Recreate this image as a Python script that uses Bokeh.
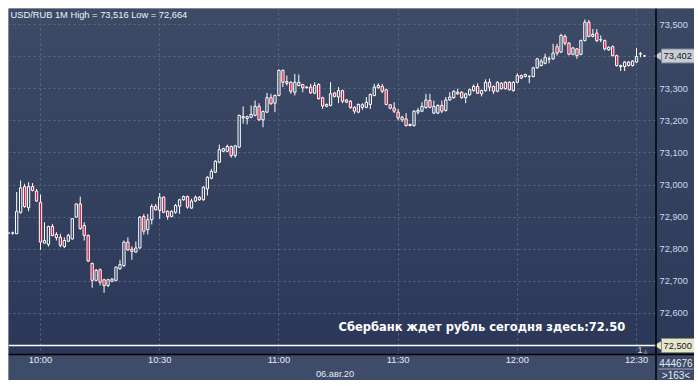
import numpy as np
import pandas as pd
from bokeh.plotting import figure
from bokeh.models import (ColumnDataSource, FixedTicker, CustomJSTickFormatter,
                          DatetimeTickFormatter, Span, Label, Range1d)
from bokeh.embed import file_html
from bokeh.resources import INLINE

# ---------------- data (USD/RUB, 1-minute candles, 06.08.2020) ----------------
start_time = "2020-08-06 09:52"
opens = [72.850, 72.850, 72.848, 72.915, 72.995, 72.929, 72.995, 72.981, 72.946, 72.819,
         72.815, 72.871, 72.846, 72.837, 72.808, 72.825, 72.832, 72.900, 72.941, 72.874,
         72.843, 72.756, 72.703, 72.736, 72.705, 72.687, 72.700, 72.703, 72.739, 72.749,
         72.822, 72.800, 72.791, 72.804, 72.902, 72.861, 72.892, 72.934, 72.921, 72.962,
         72.918, 72.902, 72.915, 72.934, 72.954, 72.964, 72.928, 72.950, 72.962, 72.954,
         72.988, 73.021, 73.040, 73.071, 73.105, 73.105, 73.120, 73.092, 73.118, 73.209,
         73.207, 73.211, 73.217, 73.245, 73.203, 73.227, 73.272, 73.255, 73.279, 73.357,
         73.317, 73.320, 73.289, 73.310, 73.313, 73.303, 73.305, 73.286, 73.313, 73.272,
         73.245, 73.248, 73.287, 73.274, 73.294, 73.258, 73.261, 73.242, 73.227, 73.242,
         73.242, 73.251, 73.279, 73.303, 73.307, 73.297, 73.250, 73.240, 73.227, 73.203,
         73.206, 73.185, 73.185, 73.227, 73.230, 73.241, 73.263, 73.224, 73.224, 73.248,
         73.232, 73.265, 73.272, 73.284, 73.289, 73.272, 73.281, 73.294, 73.307, 73.284,
         73.294, 73.305, 73.307, 73.292, 73.317, 73.300, 73.320, 73.294, 73.320, 73.341,
         73.338, 73.338, 73.338, 73.365, 73.372, 73.379, 73.392, 73.393, 73.431, 73.414,
         73.463, 73.442, 73.407, 73.424, 73.407, 73.450, 73.507, 73.463, 73.473, 73.452,
         73.450, 73.421, 73.431, 73.403, 73.369, 73.369, 73.383, 73.372, 73.383, 73.408,
         73.402]
highs = [72.853, 72.855, 72.978, 73.014, 73.004, 73.009, 73.006, 72.988, 72.970, 72.884,
         72.873, 72.879, 72.853, 72.848, 72.837, 72.848, 72.897, 72.943, 72.964, 72.884,
         72.846, 72.758, 72.739, 72.740, 72.708, 72.708, 72.710, 72.746, 72.767, 72.827,
         72.837, 72.809, 72.824, 72.903, 72.910, 72.910, 72.941, 72.941, 72.975, 72.965,
         72.921, 72.921, 72.941, 72.957, 72.967, 72.967, 72.957, 72.967, 72.965, 72.996,
         73.027, 73.050, 73.077, 73.126, 73.116, 73.126, 73.123, 73.125, 73.219, 73.245,
         73.216, 73.248, 73.263, 73.255, 73.232, 73.287, 73.284, 73.282, 73.360, 73.360,
         73.341, 73.323, 73.346, 73.344, 73.315, 73.308, 73.315, 73.320, 73.317, 73.275,
         73.254, 73.320, 73.290, 73.305, 73.297, 73.268, 73.264, 73.245, 73.254, 73.255,
         73.274, 73.285, 73.315, 73.317, 73.315, 73.300, 73.252, 73.258, 73.237, 73.216,
         73.224, 73.191, 73.233, 73.240, 73.258, 73.284, 73.284, 73.263, 73.251, 73.263,
         73.274, 73.289, 73.295, 73.300, 73.292, 73.287, 73.300, 73.313, 73.317, 73.297,
         73.329, 73.331, 73.310, 73.323, 73.320, 73.323, 73.323, 73.323, 73.348, 73.344,
         73.347, 73.341, 73.368, 73.396, 73.393, 73.409, 73.400, 73.440, 73.440, 73.471,
         73.469, 73.445, 73.430, 73.427, 73.453, 73.516, 73.514, 73.486, 73.486, 73.466,
         73.453, 73.432, 73.435, 73.406, 73.375, 73.386, 73.386, 73.389, 73.427, 73.414,
         73.405]
lows = [72.847, 72.845, 72.848, 72.910, 72.929, 72.918, 72.980, 72.948, 72.798, 72.818,
        72.808, 72.840, 72.827, 72.806, 72.804, 72.822, 72.830, 72.898, 72.860, 72.827,
        72.760, 72.680, 72.700, 72.687, 72.664, 72.682, 72.697, 72.700, 72.736, 72.744,
        72.795, 72.767, 72.789, 72.801, 72.846, 72.846, 72.877, 72.920, 72.895, 72.912,
        72.892, 72.899, 72.910, 72.910, 72.951, 72.926, 72.926, 72.947, 72.951, 72.951,
        72.967, 73.018, 73.037, 73.068, 73.102, 73.102, 73.085, 73.085, 73.115, 73.191,
        73.189, 73.208, 73.214, 73.200, 73.180, 73.224, 73.250, 73.227, 73.276, 73.305,
        73.310, 73.284, 73.279, 73.307, 73.289, 73.300, 73.284, 73.283, 73.266, 73.237,
        73.242, 73.245, 73.273, 73.255, 73.255, 73.255, 73.238, 73.222, 73.224, 73.234,
        73.239, 73.237, 73.276, 73.300, 73.286, 73.248, 73.236, 73.224, 73.201, 73.196,
        73.182, 73.183, 73.182, 73.220, 73.227, 73.238, 73.239, 73.221, 73.221, 73.224,
        73.229, 73.262, 73.269, 73.281, 73.269, 73.255, 73.278, 73.291, 73.284, 73.276,
        73.291, 73.292, 73.284, 73.289, 73.297, 73.297, 73.294, 73.291, 73.317, 73.330,
        73.335, 73.317, 73.335, 73.362, 73.369, 73.376, 73.379, 73.390, 73.403, 73.411,
        73.435, 73.404, 73.404, 73.393, 73.404, 73.447, 73.460, 73.460, 73.445, 73.445,
        73.419, 73.418, 73.400, 73.369, 73.355, 73.355, 73.369, 73.369, 73.380, 73.398,
        73.400]
closes = [72.850, 72.851, 72.918, 72.991, 72.933, 72.995, 72.983, 72.950, 72.822, 72.827,
          72.871, 72.843, 72.836, 72.812, 72.827, 72.843, 72.895, 72.941, 72.864, 72.843,
          72.763, 72.703, 72.734, 72.697, 72.687, 72.705, 72.707, 72.744, 72.752, 72.822,
          72.798, 72.793, 72.804, 72.900, 72.856, 72.892, 72.933, 72.923, 72.962, 72.915,
          72.902, 72.918, 72.936, 72.954, 72.964, 72.931, 72.950, 72.962, 72.954, 72.993,
          73.024, 73.042, 73.074, 73.110, 73.113, 73.120, 73.092, 73.122, 73.217, 73.213,
          73.213, 73.220, 73.245, 73.203, 73.229, 73.272, 73.253, 73.279, 73.357, 73.320,
          73.322, 73.292, 73.320, 73.320, 73.303, 73.305, 73.287, 73.310, 73.269, 73.246,
          73.251, 73.284, 73.276, 73.294, 73.261, 73.265, 73.241, 73.230, 73.251, 73.250,
          73.258, 73.282, 73.305, 73.310, 73.292, 73.251, 73.239, 73.230, 73.209, 73.211,
          73.185, 73.189, 73.230, 73.232, 73.245, 73.265, 73.242, 73.245, 73.248, 73.230,
          73.265, 73.274, 73.292, 73.289, 73.272, 73.284, 73.297, 73.307, 73.286, 73.294,
          73.320, 73.320, 73.292, 73.320, 73.300, 73.320, 73.297, 73.320, 73.341, 73.333,
          73.344, 73.339, 73.365, 73.393, 73.386, 73.398, 73.393, 73.411, 73.411, 73.466,
          73.442, 73.407, 73.427, 73.403, 73.450, 73.507, 73.463, 73.469, 73.450, 73.453,
          73.424, 73.429, 73.403, 73.372, 73.372, 73.383, 73.372, 73.386, 73.400, 73.409,
          73.402]

x_tick_times = ["10:00", "10:30", "11:00", "11:30", "12:00", "12:30"]
y_tick_values = [72.5, 72.6, 72.7, 72.8, 72.9, 73.0, 73.1, 73.2, 73.3, 73.4, 73.5]
title_text = "USD/RUB 1M High = 73,516 Low = 72,664"
note_text = "Сбербанк ждет рубль сегодня здесь:72.50"
date_label = "06.авг.20"
last_price = 73.402
target_price = 72.50
last_price_text = "73,402"
target_price_text = "72,500"
volume_text = "444676"
count_text = ">163<"

# ---------------- derived ----------------
n = len(opens)
times = pd.date_range(start_time, periods=n, freq="min")
t_ms = times.values.astype("datetime64[ms]").astype("int64")
day = start_time.split(" ")[0]
t10 = int(pd.Timestamp(day + " 10:00").value // 10**6)
x_ticks = [int(pd.Timestamp(day + " " + s).value // 10**6) for s in x_tick_times]

MIN = 60000.0
PX_PER_MIN = 3.9736
PX_PER_UNIT = 321.0


def sx(px):  # layout helper: screen x -> time (ms)
    return t10 + (px - 40.0) / PX_PER_MIN * MIN


def sy(py):  # layout helper: screen y -> price
    return 73.5 - (py - 24.0) / PX_PER_UNIT


o = np.array(opens); h = np.array(highs); l = np.array(lows); c = np.array(closes)
top = np.maximum(o, c)
bot = np.minimum(o, c)
up = c >= o
fill = ["rgba(0,0,0,0)" if u else "#dc143c" for u in up]
src = ColumnDataSource(dict(t=t_ms, high=h, low=l, top=top, bottom=bot, fill=fill))

# frame covers the whole dark panel: chart area + price column + time strip
X0, X1 = sx(8), sx(694)
Y0, Y1 = sy(380), sy(8)
XP = sx(655.5)   # chart / price-column separator
YP = sy(354)     # chart / time-strip separator

p = figure(x_axis_type="datetime", y_axis_location="right",
           frame_width=686, frame_height=372,
           min_border_left=0, min_border_top=0, min_border_right=0, min_border_bottom=0,
           x_range=Range1d(X0, X1), y_range=Range1d(Y0, Y1),
           toolbar_location=None, output_backend="svg",
           background_fill_color="#35425f", border_fill_color="#bdc9d9",
           outline_line_color=None)
p.margin = (8, 4, 9, 8)


def gradient(c_top, c_bot, ng=64):
    img = np.empty((ng, 1), dtype=np.uint32)
    view = img.view(dtype=np.uint8).reshape((ng, 1, 4))
    c_top = np.array(c_top, float); c_bot = np.array(c_bot, float)
    for i in range(ng):
        f = i / (ng - 1)
        col = c_bot + (c_top - c_bot) * f
        view[i, 0, 0] = int(col[0]); view[i, 0, 1] = int(col[1])
        view[i, 0, 2] = int(col[2]); view[i, 0, 3] = 255
    return img


# chart background gradient (below grid)
p.image_rgba(image=[gradient((62, 75, 102), (43, 56, 89))], x=X0, y=YP, dw=XP - X0, dh=Y1 - YP,
             level="image")

# grids
grid_col = "#5b6988"
p.xgrid.ticker = FixedTicker(ticks=x_ticks)
p.ygrid.ticker = FixedTicker(ticks=y_tick_values)
for g in (p.xgrid, p.ygrid):
    g.grid_line_color = grid_col
    g.grid_line_dash = "2 3"
    g.grid_line_width = 1

# target line (under panels)
p.add_layout(Span(location=target_price, dimension="width", line_color="white",
                  line_width=1.5, level="underlay"))

# price column and time strip panels (cover grid)
p.image_rgba(image=[gradient((60, 73, 101), (44, 57, 90))], x=XP, y=YP, dw=X1 - XP, dh=Y1 - YP)
p.quad(left=[X0], right=[X1], bottom=[Y0], top=[YP], fill_color="#3e4b69", line_color=None)
p.segment(x0=[sx(658)], x1=[sx(693)], y0=[sy(368.5)], y1=[sy(368.5)],
          line_color="#9aa6ba", line_width=1)

# separators
p.add_layout(Span(location=XP, dimension="height", line_color="black", line_width=1.5))
p.add_layout(Span(location=YP, dimension="width", line_color="black", line_width=1.5))

# axes (labels drawn back into the panels)
tick_font = "Liberation Sans"
p.yaxis.ticker = FixedTicker(ticks=y_tick_values)
p.yaxis.formatter = CustomJSTickFormatter(code="return tick.toFixed(3).replace('.', ',');")
p.xaxis.ticker = FixedTicker(ticks=x_ticks)
p.xaxis.formatter = DatetimeTickFormatter(minutes="%H:%M", hourmin="%H:%M", hours="%H:%M",
                                          minsec="%H:%M", seconds="%H:%M", days="%H:%M")
for ax in (p.xaxis[0], p.yaxis[0]):
    ax.axis_line_color = None
    ax.major_tick_line_color = None
    ax.minor_tick_line_color = None
    ax.major_tick_out = 0
    ax.major_tick_in = 0
    ax.major_label_text_font = tick_font
    ax.major_label_text_font_size = "9.3px"
p.yaxis.major_label_text_color = "#cddaee"
p.yaxis.major_label_standoff = -35
p.xaxis.major_label_text_color = "#e4eaf4"
p.xaxis.major_label_standoff = -26

# candles
w = 0.58 * MIN
p.segment(x0="t", y0="top", x1="t", y1="high", source=src, line_color="white", line_width=1)
p.segment(x0="t", y0="low", x1="t", y1="bottom", source=src, line_color="white", line_width=1)
p.vbar(x="t", top="top", bottom="bottom", width=w, source=src,
       fill_color="fill", line_color="white", line_width=1)

# price markers: pointers + boxes
p.scatter(x=[sx(658.5), sx(658.5)], y=[last_price, target_price], marker="triangle",
          size=9, angle=np.pi / 2, fill_color=["#c9ccd3", "#e6e6c8"], line_color=None)

# texts
p.add_layout(Label(x=sx(10), y=sy(9.5), text=title_text, text_font=tick_font,
                   text_font_size="9.3px", text_color="#f0f4fa", text_baseline="top"))
p.add_layout(Label(x=sx(338), y=sy(326), text=note_text, text_font="DejaVu Sans",
                   text_font_size="11.5px", text_font_style="bold", text_color="white",
                   text_baseline="middle"))
p.add_layout(Label(x=sx(334.5), y=sy(373), text=date_label, text_font=tick_font,
                   text_font_size="9.3px", text_color="#e4eaf4", text_baseline="middle",
                   text_align="center", level="overlay"))
p.add_layout(Label(x=sx(637), y=sy(349), text="1", text_font=tick_font,
                   text_font_size="9px", text_color="#e6dccb", text_baseline="middle"))
p.add_layout(Label(x=sx(645), y=sy(349.5), text="▲", text_font="DejaVu Sans",
                   text_font_size="6px", text_color="#5d6a86", text_baseline="middle",
                   text_align="center"))
p.add_layout(Label(x=sx(661), y=last_price, text=last_price_text + " ", text_font=tick_font,
                   text_font_size="9.3px", text_color="#101a30", text_baseline="middle",
                   background_fill_color="#c9ccd3", border_line_color="#7c8496",
                   padding=2, level="overlay"))
p.add_layout(Label(x=sx(661), y=target_price, text=target_price_text + " ", text_font=tick_font,
                   text_font_size="9.3px", text_color="#101a30", text_baseline="middle",
                   background_fill_color="#e6e6c8", border_line_color="#8c8c70",
                   padding=2, level="overlay"))
p.add_layout(Label(x=sx(675.5), y=sy(362), text=volume_text, text_font=tick_font,
                   text_font_size="10px", text_color="#e4eaf4", text_baseline="middle",
                   text_align="center", level="overlay"))
p.add_layout(Label(x=sx(675.5), y=sy(374.5), text=count_text, text_font=tick_font,
                   text_font_size="10px", text_color="#e4eaf4", text_baseline="middle",
                   text_align="center", level="overlay"))

html = file_html(p, INLINE)
html = html.replace("<body>", '<body style="margin:0;background:#bdc9d9;">', 1)
open("out.html", "w").write(html)
